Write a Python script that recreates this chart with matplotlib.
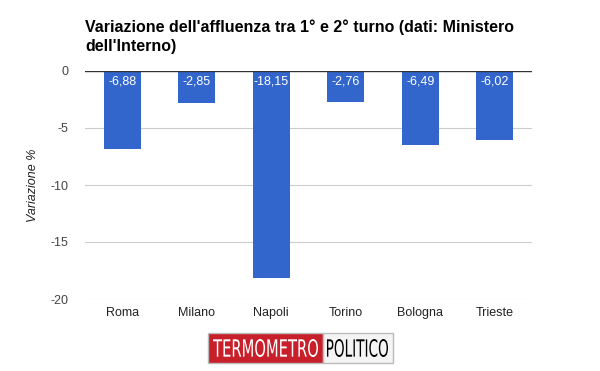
import matplotlib
matplotlib.use("Agg")
import matplotlib.pyplot as plt
from matplotlib.patches import Rectangle, PathPatch
from matplotlib.textpath import TextPath
from matplotlib.font_manager import FontProperties
from matplotlib.transforms import Affine2D

plt.rcParams["font.family"] = ["Liberation Sans", "DejaVu Sans"]

cities = ["Roma", "Milano", "Napoli", "Torino", "Bologna", "Trieste"]
values = [-6.88, -2.85, -18.15, -2.76, -6.49, -6.02]
yticks = [0, -5, -10, -15, -20]

W, H = 600, 371
fig = plt.figure(figsize=(6, 3.71), dpi=100)
ax = fig.add_axes([85 / W, 1 - 299 / H, (532 - 85) / W, (299 - 71) / H])

x = range(len(cities))
ax.bar(x, values, width=0.5, color="#3366cc", zorder=3)
for xi, v in zip(x, values):
    ax.text(xi, -0.4, f"{v:.2f}".replace(".", ","), ha="center", va="top",
            color="white", fontsize=9, zorder=4)

ax.set_xlim(-0.5, len(cities) - 0.5)
ax.set_ylim(-20, 0)
ax.set_yticks(yticks)
ax.set_yticklabels([str(t) for t in yticks])
ax.set_xticks(list(x))
ax.set_xticklabels(cities)
ax.tick_params(length=0, labelsize=9, colors="#222222")
ax.tick_params(axis="y", pad=12, labelcolor="#444444")
ax.tick_params(axis="x", pad=6)
for t in yticks:
    if t != 0:
        ax.axhline(t, color="#cccccc", lw=0.8, zorder=1)
ax.axhline(0, color="#333333", lw=1, zorder=5)
for s in ax.spines.values():
    s.set_visible(False)
ax.set_ylabel("Variazione %", style="italic", fontsize=9, color="#222222", labelpad=8)

fig.text(85 / W, 1 - 27 / H, "Variazione dell'affluenza tra 1° e 2° turno (dati: Ministero",
         fontsize=11.5, fontweight="bold", va="center", ha="left")
fig.text(85 / W, 1 - 47 / H, "dell'Interno)",
         fontsize=11.5, fontweight="bold", va="center", ha="left")

# logo
x0, x1, x2 = 208, 323, 393
y0, y1 = 333, 363
fig.patches.append(Rectangle((x0 / W, 1 - y1 / H), (x1 - x0) / W, (y1 - y0) / H,
                             transform=fig.transFigure, facecolor="#c8202a",
                             edgecolor="#bbbbbb", lw=1))
fig.patches.append(Rectangle((x1 / W, 1 - y1 / H), (x2 - x1) / W, (y1 - y0) / H,
                             transform=fig.transFigure, facecolor="#f4f4f4",
                             edgecolor="#bbbbbb", lw=1))


def fitted_text(s, left, right, top, bottom, color):
    tp = TextPath((0, 0), s, size=10, prop=FontProperties(family="DejaVu Sans"))
    ext = tp.get_extents()
    sx = (right - left) / ext.width
    sy = (bottom - top) / ext.height
    tr = (Affine2D().translate(-ext.x0, -ext.y0).scale(sx / W, sy / H)
          .translate(left / W, (H - bottom) / H) + fig.transFigure)
    fig.patches.append(PathPatch(tp, transform=tr, facecolor=color, edgecolor="none"))


fitted_text("TERMOMETRO", x0 + 5, x1 - 5, y0 + 6, y1 - 6, "white")
fitted_text("POLITICO", x1 + 4, x2 - 5, y0 + 6, y1 - 6, "black")

fig.savefig("out.png", dpi=100)
